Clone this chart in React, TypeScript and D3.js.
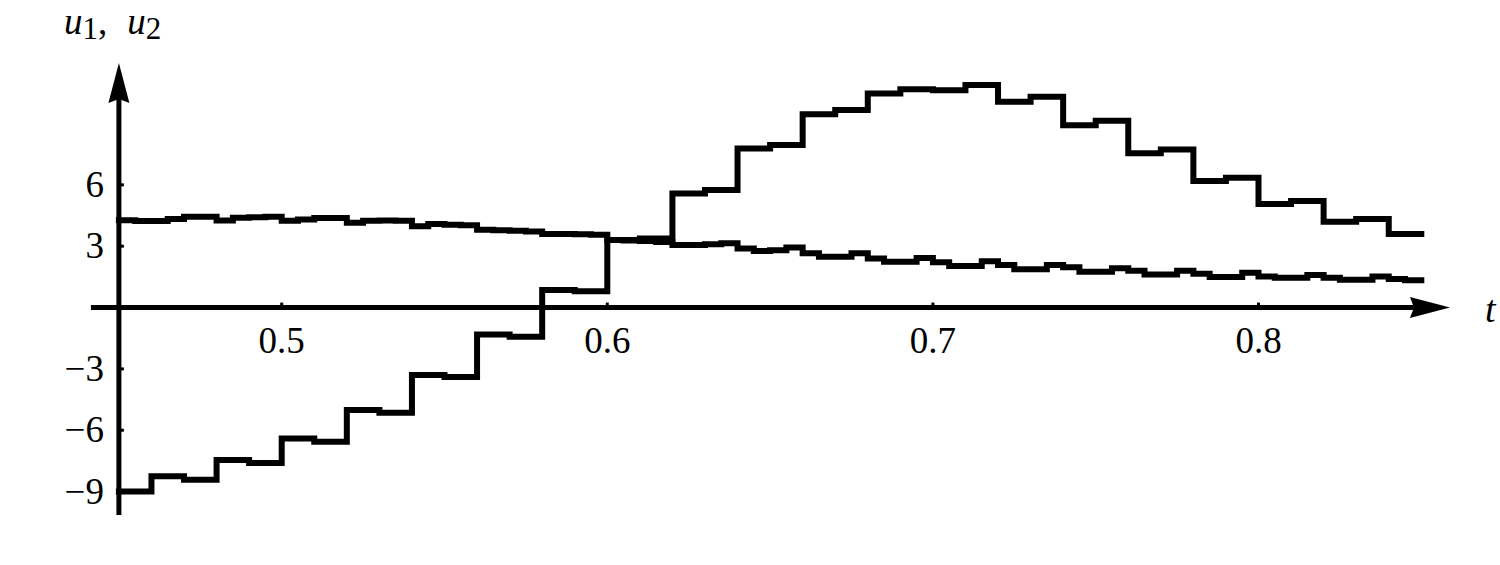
import React from "react";
import * as d3 from "d3";

// step controls: u1 sampled every 0.005, u2 every 0.01, both from t = 0.45 to 0.85
const tStart = 0.45;
const tEnd = 0.85;

const u1Values = [
  4.27, 4.23, 4.23, 4.33, 4.44, 4.44, 4.26, 4.39, 4.42, 4.44,
  4.25, 4.31, 4.38, 4.38, 4.15, 4.25, 4.26, 4.24, 3.98, 4.08,
  4.05, 4.02, 3.8, 3.78, 3.76, 3.72, 3.6, 3.6, 3.58, 3.56,
  3.3, 3.28, 3.25, 3.2, 3.06, 3.06, 3.1, 3.14, 2.89, 2.76,
  2.8, 2.94, 2.66, 2.48, 2.48, 2.66, 2.4, 2.24, 2.24, 2.42,
  2.22, 2.03, 2.03, 2.26, 2.08, 1.87, 1.87, 2.08, 1.97, 1.75,
  1.75, 1.92, 1.8, 1.62, 1.62, 1.8, 1.65, 1.49, 1.49, 1.7,
  1.52, 1.46, 1.46, 1.59, 1.46, 1.36, 1.36, 1.52, 1.4, 1.34,
];

const u2Values = [
  -9.0, -8.25, -8.42, -7.46, -7.6, -6.4, -6.56, -5.01, -5.15, -3.3,
  -3.4, -1.32, -1.43, 0.86, 0.8, 3.3, 3.38, 5.58, 5.75, 7.78,
  7.95, 9.45, 9.66, 10.47, 10.67, 10.62, 10.88, 10.06, 10.31, 8.92,
  9.13, 7.54, 7.73, 6.19, 6.35, 5.06, 5.21, 4.2, 4.33, 3.6,
];

const xTicks = [0.5, 0.6, 0.7, 0.8];
const yTicks = [-9, -6, -3, 3, 6];

const width = 1500;
const height = 565;

const toSteps = (values: number[]) => {
  const dt = (tEnd - tStart) / values.length;
  const pts: [number, number][] = values.map((v, i) => [tStart + i * dt, v]);
  pts.push([tEnd, values[values.length - 1]]);
  return pts;
};

const fmt = (v: number) => (v < 0 ? "\u2212" + Math.abs(v) : String(v));

const serif = '"Liberation Serif", "DejaVu Serif", serif';

export default function App() {
  const x = d3.scaleLinear().domain([0.45, 0.85]).range([118.9, 1421.3]);
  const y = d3.scaleLinear().domain([-9, 6]).range([491.6, 184.85]);

  const line = d3
    .line<[number, number]>()
    .x((d) => x(d[0]))
    .y((d) => y(d[1]))
    .curve(d3.curveStepAfter);

  const x0 = x(0.45);
  const y0 = y(0);

  // axis extents
  const xAxisLeft = x(0.4414);
  const xTip = x(0.8588);
  const yAxisBottom = y(-10.15);
  const yTip = y(11.96);
  const arrowLen = 40;
  const arrowHalf = 10.5;
  const notch = 4;

  const txt = { fontFamily: serif };

  return (
    <svg
      width={width}
      height={height}
      style={{ position: "absolute", left: 0, top: 0, background: "#fff", fontFamily: serif }}
    >
      <rect width={width} height={height} fill="#fff" />

      {/* curves */}
      <path d={line(toSteps(u1Values)) || ""} fill="none" stroke="#000" strokeWidth={6} strokeLinejoin="miter" strokeLinecap="square" />
      <path d={line(toSteps(u2Values)) || ""} fill="none" stroke="#000" strokeWidth={6} strokeLinejoin="miter" strokeLinecap="square" />

      {/* x axis */}
      <line x1={xAxisLeft} x2={xTip - arrowLen + notch} y1={y0} y2={y0} stroke="#000" strokeWidth={5} />
      <polygon
        points={`${xTip},${y0} ${xTip - arrowLen},${y0 - arrowHalf} ${xTip - arrowLen + notch},${y0} ${xTip - arrowLen},${y0 + arrowHalf}`}
        fill="#000"
      />
      {xTicks.map((t) => (
        <g key={t}>
          <line x1={x(t)} x2={x(t)} y1={y0} y2={y0 - 5} stroke="#000" strokeWidth={3} />
          <text x={x(t)} y={y0 + 45} textAnchor="middle" fontSize={37} style={txt}>
            {t.toFixed(1)}
          </text>
        </g>
      ))}

      {/* y axis */}
      <line x1={x0} x2={x0} y1={yAxisBottom} y2={yTip + arrowLen - notch} stroke="#000" strokeWidth={5} />
      <polygon
        points={`${x0},${yTip} ${x0 - arrowHalf},${yTip + arrowLen} ${x0},${yTip + arrowLen - notch} ${x0 + arrowHalf},${yTip + arrowLen}`}
        fill="#000"
      />
      {yTicks.map((v) => (
        <g key={v}>
          <line x1={x0} x2={x0 + 5} y1={y(v)} y2={y(v)} stroke="#000" strokeWidth={3} />
          <text x={x0 - 15} y={y(v) + 12} textAnchor="end" fontSize={37} style={txt}>
            {fmt(v)}
          </text>
        </g>
      ))}

      {/* axis labels */}
      <text x={64} y={34} fontSize={37} style={txt}>
        <tspan fontStyle="italic">u</tspan>
        <tspan fontSize={31} dy={5}>1</tspan>
        <tspan dy={-5}>,</tspan>
        <tspan dx={20} fontStyle="italic">u</tspan>
        <tspan fontSize={31} dy={5}>2</tspan>
      </text>
      <text x={1485} y={322} fontSize={38} fontStyle="italic" style={txt}>
        t
      </text>
    </svg>
  );
}
